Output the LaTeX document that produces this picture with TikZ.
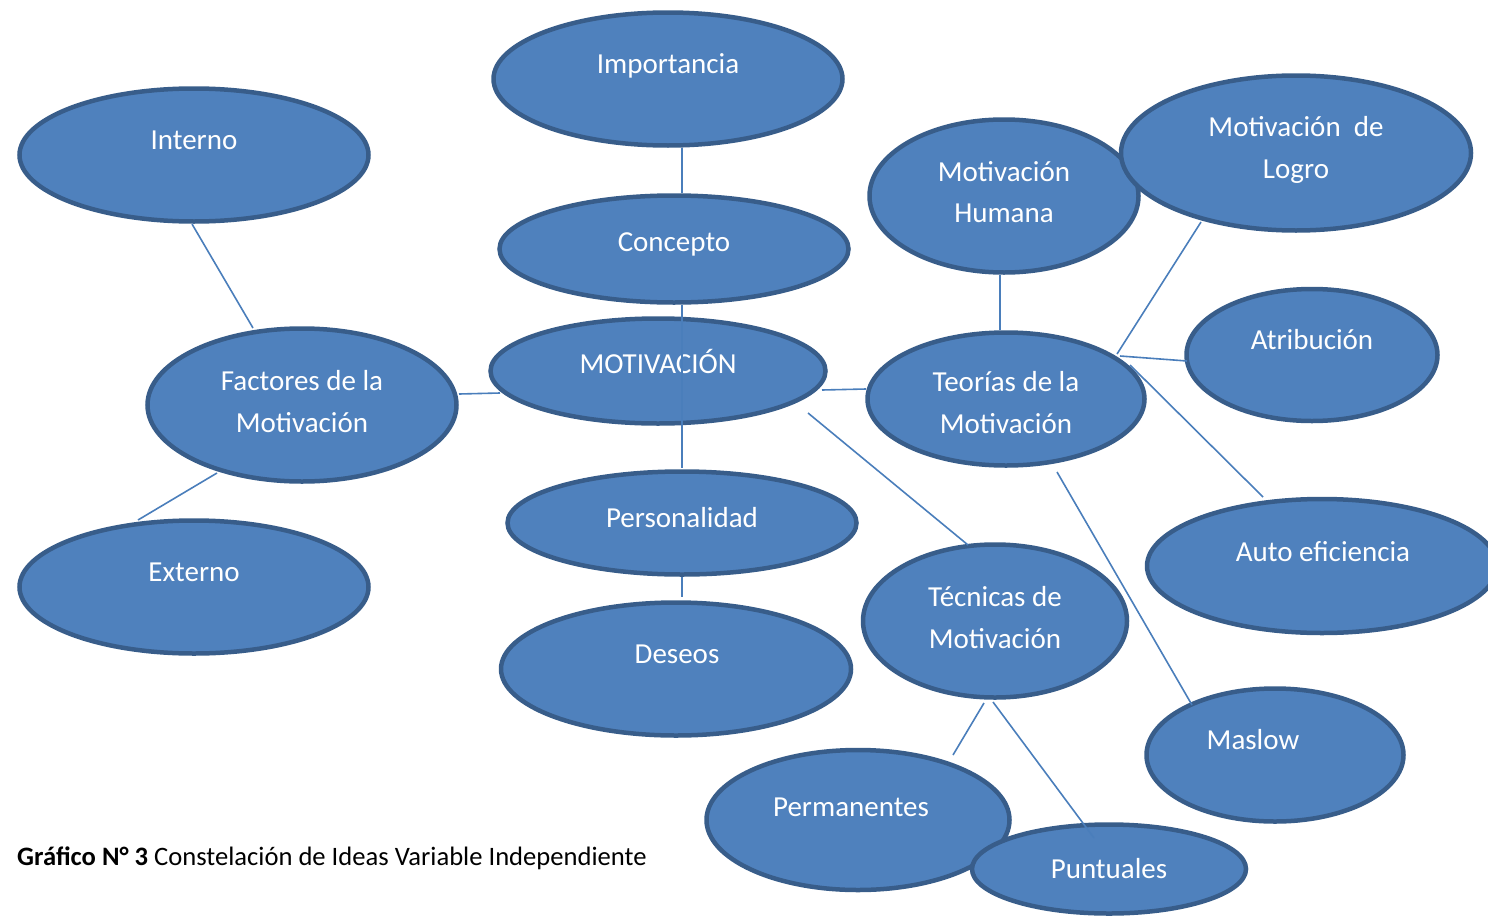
\documentclass[tikz,border=0pt]{standalone}
\usepackage{fontspec}
\setmainfont{Carlito}
\usetikzlibrary{shapes.geometric}
\definecolor{fillb}{HTML}{4F81BD}
\definecolor{bord}{HTML}{385D8A}
\definecolor{linec}{HTML}{4A7EBB}
\tikzset{
  bub/.style={ellipse, draw=bord, fill=fillb, line width=4.5pt, inner sep=0pt},
  lbl/.style={text=white, font=\fontsize{29}{35}\selectfont, inner sep=0pt, text height=19pt, text depth=6pt},
  conn/.style={draw=linec, line width=1.6pt},
}
\newcommand{\bubble}[5]{\node[bub, minimum width=#4pt, minimum height=#5pt] (#1) at (#2,#3) {};}
\begin{document}
\begin{tikzpicture}[x=1pt,y=-1pt]
\useasboundingbox (0,0) rectangle (1488,918);
% ellipses
\bubble{imp}{668}{79}{349}{133}
\bubble{int}{194}{155}{349}{133}
\bubble{con}{674}{249}{349}{107}
\bubble{hum}{1004}{196}{269}{153}
\bubble{log}{1296}{153}{350}{155}
\bubble{mot}{658}{371}{335}{105}
\bubble{fac}{302}{405}{309}{153}
\bubble{teo}{1006}{399}{277}{133}
\bubble{atr}{1312}{355}{251}{132}
\bubble{ext}{194}{587}{349}{133}
\bubble{per}{682}{523}{349}{103}
\bubble{des}{676}{669}{350}{133}
\bubble{tec}{995}{621}{264}{153}
\bubble{aut}{1322}{566}{350}{134}
\bubble{mas}{1275}{755}{257}{133}
\bubble{perm}{858}{820}{303}{140}
\bubble{pun}{1109}{869}{274}{89}
% labels
\node[lbl] (imp-t) at (668,67) {Importancia};
\node[lbl] (int-t) at (194,143) {Interno};
\node[lbl] (con-t) at (674,245) {Concepto};
\node[lbl] (hum-t1) at (1004,175) {Motivación};
\node[lbl] (hum-t2) at (1004,216) {Humana};
\node[lbl] (log-t1) at (1296,130) {Motivación~ de};
\node[lbl] (log-t2) at (1296,172) {Logro};
\node[lbl] (mot-t) at (658,367) {MOTIVACIÓN};
\node[lbl] (fac-t1) at (302,384) {Factores de la};
\node[lbl] (fac-t2) at (302,426) {Motivación};
\node[lbl] (teo-t1) at (1006,385) {Teorías de la};
\node[lbl] (teo-t2) at (1006,427) {Motivación};
\node[lbl] (atr-t) at (1312,343) {Atribución};
\node[lbl] (aut-t) at (1323,555) {Auto eficiencia};
\node[lbl] (ext-t) at (194,575) {Externo};
\node[lbl] (per-t) at (682,521) {Personalidad};
\node[lbl] (des-t) at (677,657) {Deseos};
\node[lbl] (tec-t1) at (995,600) {Técnicas de};
\node[lbl] (tec-t2) at (995,642) {Motivación};
\node[lbl] (mas-t) at (1253,743) {Maslow};
\node[lbl] (perm-t) at (851,810) {Permanentes};
\node[lbl] (pun-t) at (1109,872) {Puntuales};
% connector anchors
\coordinate (a1) at (682,148); \coordinate (a2) at (682,193);
\coordinate (b1) at (192,224); \coordinate (b2) at (253,328);
\coordinate (c1) at (459,394); \coordinate (c2) at (500,393);
\coordinate (d1) at (217,473); \coordinate (d2) at (138,520);
\coordinate (e1) at (682,305); \coordinate (e2) at (682,468);
\coordinate (f1) at (682,577); \coordinate (f2) at (682,597);
\coordinate (g1) at (822,390); \coordinate (g2) at (866,389);
\coordinate (h1) at (808,413); \coordinate (h2) at (968,545);
\coordinate (i1) at (1000,275); \coordinate (i2) at (1000,330);
\coordinate (j1) at (1117,354); \coordinate (j2) at (1201,222);
\coordinate (k1) at (1120,356); \coordinate (k2) at (1187,361);
\coordinate (l1) at (1130,365); \coordinate (l2) at (1263,497);
\coordinate (m1) at (1057,472); \coordinate (m2) at (1192,705);
\coordinate (n1) at (984,703); \coordinate (n2) at (953,755);
\coordinate (o1) at (993,702); \coordinate (o2) at (1094,838);
\draw[conn] (a1) -- (a2); \draw[conn] (b1) -- (b2); \draw[conn] (c1) -- (c2);
\draw[conn] (d1) -- (d2); \draw[conn] (e1) -- (e2); \draw[conn] (f1) -- (f2);
\draw[conn] (g1) -- (g2); \draw[conn] (h1) -- (h2); \draw[conn] (i1) -- (i2);
\draw[conn] (j1) -- (j2); \draw[conn] (k1) -- (k2); \draw[conn] (l1) -- (l2);
\draw[conn] (m1) -- (m2); \draw[conn] (n1) -- (n2); \draw[conn] (o1) -- (o2);
% caption
\node[anchor=base west, inner sep=0pt, font=\fontsize{26.6}{30}\selectfont] (cap) at (17,865) {\textbf{Gráfico N° 3} Constelación de Ideas Variable Independiente};
\end{tikzpicture}
\end{document}
